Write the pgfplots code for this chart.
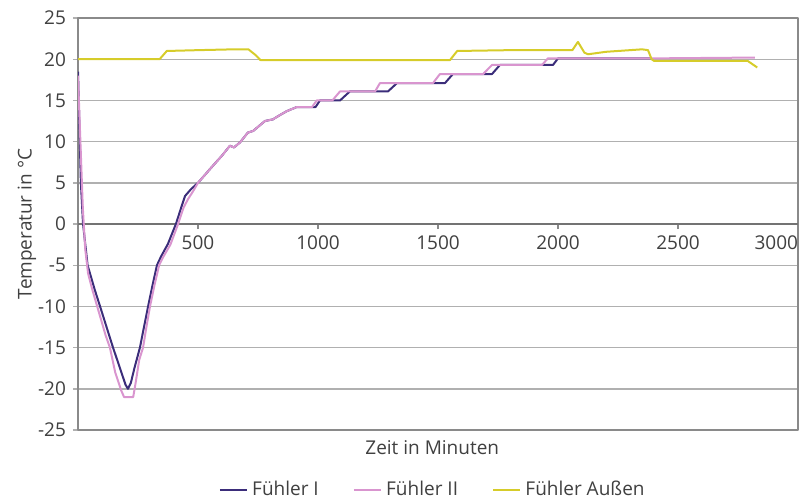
\documentclass[border=0pt]{standalone}
\usepackage{fontspec}
\setmainfont{Open Sans}
\usepackage{pgfplots}
\pgfplotsset{compat=1.18}
\definecolor{fI}{HTML}{3B2D7A}
\definecolor{fII}{HTML}{D995CF}
\definecolor{fA}{HTML}{D6CC2A}
\definecolor{gridc}{HTML}{B0B0B0}
\definecolor{axc}{HTML}{8A8A8A}
\definecolor{txt}{HTML}{404040}
\begin{document}
\begin{tikzpicture}
\useasboundingbox (-39pt,-35pt) rectangle (361.5pt,215pt);
\begin{axis}[
 at={(0,0)}, anchor=south west,
 scale only axis, width=360pt, height=206pt,
 xmin=0,xmax=3000,ymin=-25,ymax=25,
 xtick={500,1000,...,3000},
 xticklabels={500,1000,1500,2000,2500,\llap{3000}},
 ytick={-25,-20,...,25},
 ymajorgrids, major grid style={gridc, line width=0.7pt},
 axis line style={axc, line width=0.8pt},
 xtick pos=bottom, ytick pos=left,
 tick align=outside,
 major tick length=2.5pt,
 xtick style={axc, line width=0.7pt, yshift=103pt},
 ytick style={gridc, line width=0.7pt},
 xticklabel style={yshift=103pt},
 /pgf/number format/assume math mode=true,
 /pgf/number format/1000 sep={},
 tick label style={font=\fontsize{9.5}{11}\selectfont, text=txt},
 extra y ticks={0}, extra y tick labels={},
 extra y tick style={grid=major, major grid style={color=black!55, line width=1pt}, major tick length=0pt},
 xlabel={Zeit in Minuten}, ylabel={Temperatur in °C},
 label style={font=\fontsize{9.5}{11}\selectfont, text=txt},
 xlabel style={at={(axis description cs:0.492,-0.0437)}, anchor=center},
 ylabel style={at={(axis description cs:-0.0708,0.5)}, anchor=center},
 legend columns=3,
 legend style={at={(axis description cs:0.494,-0.1456)}, anchor=center, draw=none, fill=none, font=\fontsize{9.5}{11}\selectfont, text=txt, /tikz/every even column/.style={column sep=15pt}},
 legend image code/.code={\draw[#1, line width=1.2pt] (0pt,0pt) -- (13.5pt,0pt);},
 line join=round,
]
\addplot[fI, line width=1pt] table {
x y
0 18.5
12 5
21 0
40 -5
50 -6
70 -8
92 -10
120 -12.6
146 -15
175 -17.5
198 -19.5
208 -20
220 -19.3
235 -17.5
258 -15
275 -12.5
292 -10
310 -7.5
329 -5
345 -4
375 -2.4
408 0
430 2
446 3.4
470 4.2
500 5
560 7
600 8.3
633 9.5
650 9.3
675 9.9
708 11.1
730 11.3
779 12.5
812 12.7
840 13.2
870 13.7
912 14.2
990 14.2
1008 15
1092 15
1133 16.1
1292 16.1
1329 17.1
1529 17.1
1562 18.2
1725 18.2
1758 19.3
1979 19.3
2000 20.1
2390 20.1
};
\addlegendentry{Fühler I}
\addplot[fII, line width=1pt] table {
x y
0 18
10 10
20 2
30 -3
42 -6
60 -8
90 -11
115 -13.5
133 -15
155 -18
180 -20.2
192 -21
230 -21
240 -19.3
255 -16.5
271 -15
285 -12.5
300 -10
318 -7.5
338 -5
355 -4
385 -2.5
417 0
440 2
458 3
480 4
500 5
560 7
600 8.3
633 9.5
650 9.3
675 9.9
708 11.1
730 11.3
779 12.5
812 12.7
840 13.2
870 13.7
912 14.2
975 14.2
995 15
1060 15
1092 16.1
1238 16.1
1258 17.1
1479 17.1
1508 18.2
1688 18.2
1725 19.3
1933 19.3
1958 20.1
2390 20.1
2820 20.2
};
\addlegendentry{Fühler II}
\addplot[fA, line width=1pt] table {
x y
0 20
340 20
370 21
500 21.1
650 21.2
710 21.2
740 20.5
760 19.9
1550 19.9
1580 21
1800 21.1
2060 21.1
2083 22.1
2110 20.8
2125 20.6
2200 20.9
2350 21.2
2375 21.1
2390 20
2400 19.8
2790 19.8
2830 19.0
};
\addlegendentry{Fühler Außen}
\end{axis}
\end{tikzpicture}
\end{document}
